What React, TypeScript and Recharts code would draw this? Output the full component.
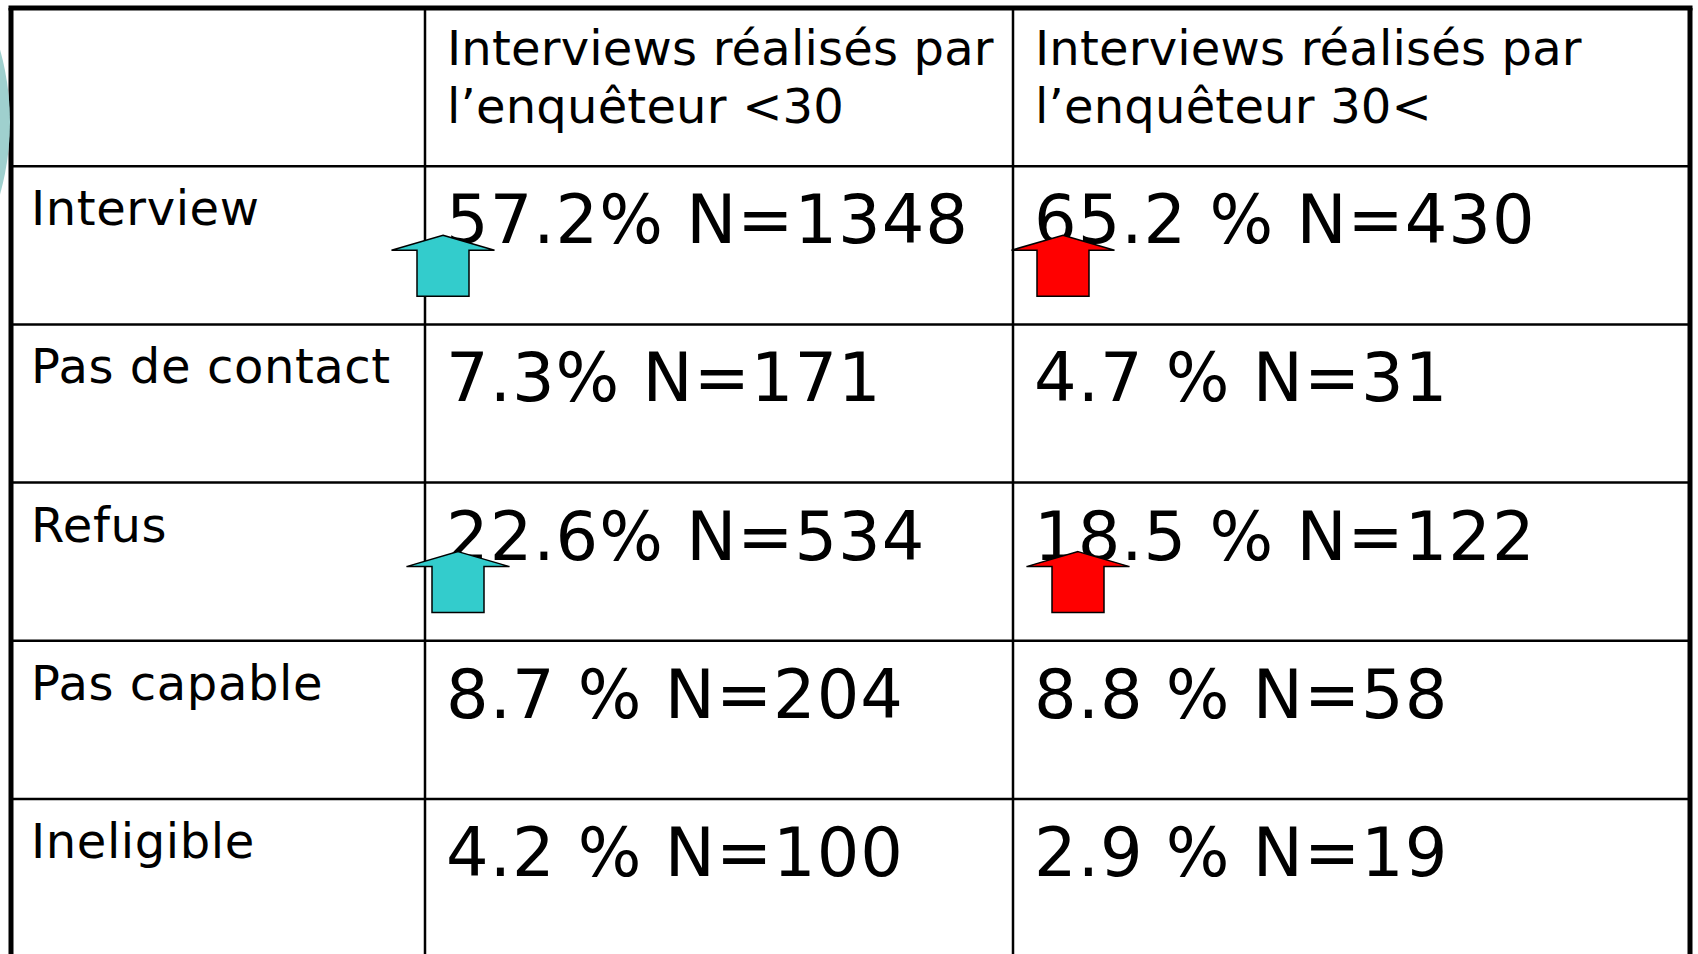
import { ScatterChart, Scatter, XAxis, YAxis, ReferenceLine, ReferenceDot } from 'recharts'

// table content
const rowLabels = ['Interview', 'Pas de contact', 'Refus', 'Pas capable', 'Ineligible']
const groupHeaders = [
  ['Interviews réalisés par', 'l’enquêteur <30'],
  ['Interviews réalisés par', 'l’enquêteur 30<'],
]
const pctUnder30 = [57.2, 7.3, 22.6, 8.7, 4.2]
const nUnder30 = [1348, 171, 534, 204, 100]
const pctOver30 = [65.2, 4.7, 18.5, 8.8, 2.9]
const nOver30 = [430, 31, 122, 58, 19]
// the slide puts a space before "%" in some cells only
const gapUnder30 = [false, false, false, true, true]
const gapOver30 = [true, true, true, true, true]
// rows flagged with an up arrow in both groups
const arrowRows = ['Interview', 'Refus']
const arrowColors = ['#33CCCC', '#FF0000']

// layout (page pixels)
const W = 1698
const H = 954
const TOP = 8
const ROW_H = 158.2
const COL_LINES = [11, 425, 1013, 1690]
const ARROW_NUDGE: Record<string, number[]> = { Interview: [18, 50], Refus: [33, 65] }
const FONT = '"DejaVu Sans", Verdana, sans-serif'

const rowTop = (i: number) => TOP + ROW_H * (i + 1)
const fmt = (p: number, n: number, gap: boolean) => `${p.toFixed(1)}${gap ? ' ' : ''}% N=${n}`

const headerPoints = groupHeaders.map((lines, c) => ({ x: COL_LINES[c + 1] + 22, y: TOP + 57, lines }))
const labelPoints = rowLabels.map((label, i) => ({ x: COL_LINES[0] + 20, y: rowTop(i) + 59, label }))
const cellPoints = [
  ...pctUnder30.map((p, i) => ({ x: COL_LINES[1] + 21, y: rowTop(i) + 77, label: fmt(p, nUnder30[i], gapUnder30[i]) })),
  ...pctOver30.map((p, i) => ({ x: COL_LINES[2] + 21, y: rowTop(i) + 77, label: fmt(p, nOver30[i], gapOver30[i]) })),
]
const arrowPoints = arrowRows.flatMap(row => {
  const i = rowLabels.indexOf(row)
  return arrowColors.map((color, c) => ({ x: COL_LINES[c + 1] + ARROW_NUDGE[row][c], y: rowTop(i) + 69, color }))
})

const rowLines = rowLabels.map((_, i) => rowTop(i))

const HeaderText = (props: any) => (
  <text x={props.cx} y={props.cy} fontFamily={FONT} fontSize={48} letterSpacing={0.2} fill="#000">
    {props.payload.lines.map((l: string, k: number) => (
      <tspan key={k} x={props.cx} dy={k === 0 ? 0 : 58}>{l}</tspan>
    ))}
  </text>
)

const LabelText = (props: any) => (
  <text x={props.cx} y={props.cy} fontFamily={FONT} fontSize={48} letterSpacing={0.6} fill="#000">{props.payload.label}</text>
)

const CellText = (props: any) => (
  <text x={props.cx} y={props.cy} fontFamily={FONT} fontSize={67} letterSpacing={1} fill="#000">{props.payload.label}</text>
)

const UpArrow = (props: any) => {
  const { cx, cy } = props
  const pts = [
    [cx, cy], [cx + 51.5, cy + 15], [cx + 26, cy + 15], [cx + 26, cy + 61],
    [cx - 26, cy + 61], [cx - 26, cy + 15], [cx - 51.5, cy + 15],
  ].map(p => p.join(',')).join(' ')
  return <polygon points={pts} fill={props.payload.color} stroke="#000" strokeWidth={1.5} />
}

export default function App() {
  return (
    <div style={{ position: 'absolute', left: 0, top: 0, width: W, height: H, background: '#fff' }}>
      <ScatterChart width={W} height={H} margin={{ top: 0, right: 0, bottom: 0, left: 0 }}>
        <XAxis type="number" dataKey="x" domain={[0, W]} allowDataOverflow hide />
        <YAxis type="number" dataKey="y" domain={[0, H]} allowDataOverflow reversed hide />

        {/* slide decoration peeking in at the left edge */}
        <ReferenceDot x={-258} y={122} r={268} fill="#9fd0ce" stroke="none" ifOverflow="visible" />

        {rowLines.map(y => (
          <ReferenceLine key={y} segment={[{ x: COL_LINES[0], y }, { x: COL_LINES[3], y }]} stroke="#000" strokeWidth={2.5} ifOverflow="visible" />
        ))}
        {COL_LINES.slice(1, 3).map(x => (
          <ReferenceLine key={x} segment={[{ x, y: TOP }, { x, y: H }]} stroke="#000" strokeWidth={2.5} ifOverflow="visible" />
        ))}
        <ReferenceLine segment={[{ x: COL_LINES[0] - 2.5, y: TOP }, { x: COL_LINES[3] + 2.5, y: TOP }]} stroke="#000" strokeWidth={5} ifOverflow="visible" />
        <ReferenceLine segment={[{ x: COL_LINES[0], y: TOP }, { x: COL_LINES[0], y: H }]} stroke="#000" strokeWidth={5} ifOverflow="visible" />
        <ReferenceLine segment={[{ x: COL_LINES[3], y: TOP }, { x: COL_LINES[3], y: H }]} stroke="#000" strokeWidth={5} ifOverflow="visible" />

        <Scatter data={headerPoints} shape={HeaderText} isAnimationActive={false} />
        <Scatter data={labelPoints} shape={LabelText} isAnimationActive={false} />
        <Scatter data={cellPoints} shape={CellText} isAnimationActive={false} />
        <Scatter data={arrowPoints} shape={UpArrow} isAnimationActive={false} />
      </ScatterChart>
    </div>
  )
}
